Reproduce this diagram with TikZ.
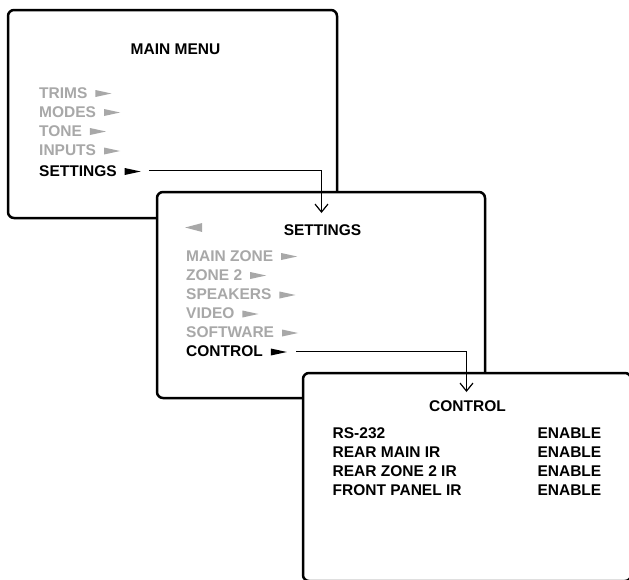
\documentclass[tikz,border=0pt]{standalone}
\usepackage{fontspec}
\setmainfont{Liberation Sans}
\usetikzlibrary{arrows.meta,positioning}
\definecolor{MenuGray}{RGB}{168,168,168}
\newcommand{\menufont}{\bfseries\fontsize{15.5}{18}\selectfont}
% pointer glyphs of the menus
\newcommand{\rtri}{\hspace{8pt}\tikz[baseline=0pt]\fill (0pt,1pt) -- (16pt,4.5pt) -- (0pt,8pt) -- cycle;}
\newcommand{\ltri}{\tikz[baseline=0pt]\fill (17pt,3pt) -- (0pt,7.5pt) -- (17pt,12pt) -- cycle;}
\tikzset{
  menubox/.style={draw=black,fill=white,line width=2.5pt,rounded corners=6pt},
  heading/.style={inner sep=0pt,anchor=base,font=\menufont},
  dimitem/.style={inner sep=0pt,anchor=base west,text=MenuGray,font=\menufont},
  pickitem/.style={inner sep=0pt,anchor=base west,text=black,font=\menufont},
  valitem/.style={inner sep=0pt,anchor=base east,text=black,font=\menufont},
  link/.style={-{Straight Barb[length=8pt,width=13pt,line width=1.2pt]},
    line width=1.1pt,black}
}

\begin{document}
\begin{tikzpicture}[x=1pt,y=-1pt]

\useasboundingbox (0,0) rectangle (629,579);
\clip (0,0) rectangle (629,579);

% main menu
\node[menubox,minimum width=329pt,minimum height=208pt] (main) at (172.5,114) {};
\node[heading] (mTitle) at (175.5,54) {MAIN MENU};
\node[dimitem] (mTrims) at (39,98) {TRIMS\rtri};
\node[dimitem] (mModes) at (39,117) {MODES\rtri};
\node[dimitem] (mTone) at (39,136) {TONE\rtri};
\node[dimitem] (mInputs) at (39,155.5) {INPUTS\rtri};
\node[pickitem] (mSettings) at (39,176) {SETTINGS\rtri};

% settings menu
\node[menubox,minimum width=328pt,minimum height=206pt] (settings) at (321,295) {};
\node[dimitem] (sBack) at (185,235) {\ltri};
\node[heading] (sTitle) at (322.5,235) {SETTINGS};
\node[dimitem] (sMain) at (186,261) {MAIN ZONE\rtri};
\node[dimitem] (sZone) at (186,280) {ZONE 2\rtri};
\node[dimitem] (sSpeakers) at (186,299.5) {SPEAKERS\rtri};
\node[dimitem] (sVideo) at (186,318.5) {VIDEO\rtri};
\node[dimitem] (sSoftware) at (186,337.5) {SOFTWARE\rtri};
\node[pickitem] (sControl) at (186,356.5) {CONTROL\rtri};
\coordinate (sIn) at (321.5,213);

\draw[link] ([xshift=8pt]mSettings.east) -| (sIn);

% control menu
\node[menubox,minimum width=328pt,minimum height=208pt] (control) at (467,477) {};
\node[heading] (cTitle) at (467.5,411.5) {CONTROL};
\node[pickitem] (cRs) at (332.5,438.5) {RS-232};
\node[pickitem] (cRear) at (332.5,457.5) {REAR MAIN IR};
\node[pickitem] (cZone) at (332.5,476.5) {REAR ZONE 2 IR};
\node[pickitem] (cFront) at (332.5,495.5) {FRONT PANEL IR};
\node[valitem] (vRs) at (601.5,438.5) {ENABLE};
\node[valitem] (vRear) at (601.5,457.5) {ENABLE};
\node[valitem] (vZone) at (601.5,476.5) {ENABLE};
\node[valitem] (vFront) at (601.5,495.5) {ENABLE};
\coordinate (cIn) at (466.5,392);

\draw[link] ([xshift=9pt]sControl.east) -| (cIn);

\end{tikzpicture}
\end{document}
